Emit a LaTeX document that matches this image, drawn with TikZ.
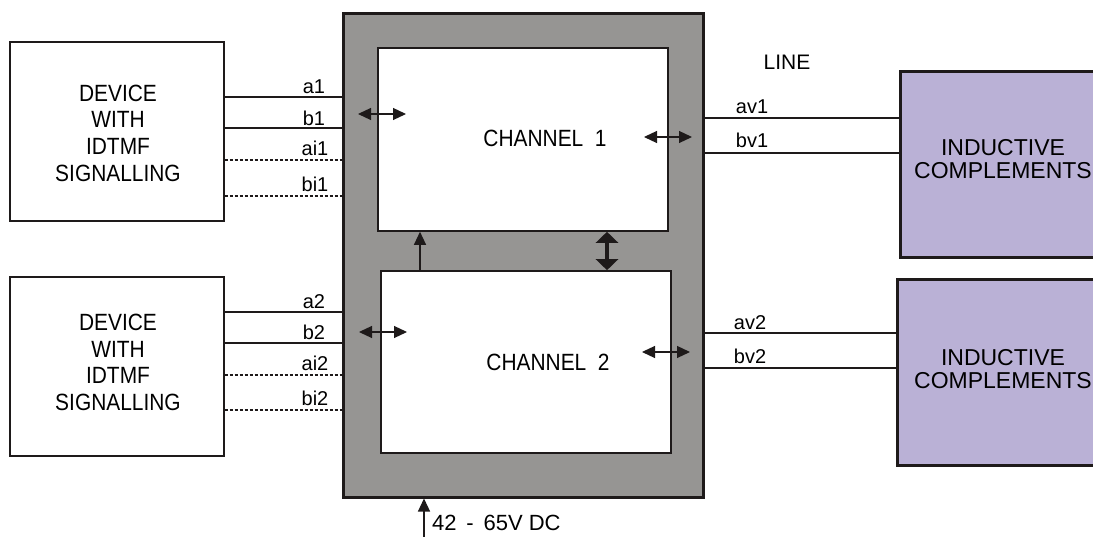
\documentclass[tikz,border=0pt]{standalone}
\usepackage{fontspec}
\setmainfont{Liberation Sans}
\newfontfamily\narrowfont[FakeStretch=0.89]{Liberation Sans}
\usetikzlibrary{arrows.meta}
\definecolor{shell}{HTML}{969593}
\definecolor{lav}{HTML}{BAB1D6}
\definecolor{ink}{HTML}{1E1A1A}
\tikzset{
  devbox/.style={draw=ink, line width=1.3pt, minimum width=214pt, minimum height=179pt, inner sep=0pt},
  chbox/.style={draw=ink, fill=white, line width=1.6pt, minimum width=290pt, inner sep=0pt},
  indbox/.style={draw=ink, fill=lav, line width=3pt, inner sep=0pt},
  bigtext/.style={align=center, font=\narrowfont\fontsize{23.5}{26.7}\selectfont, inner sep=0pt},
  indtext/.style={align=center, font=\fontsize{23}{22.5}\selectfont, inner sep=0pt},
  wlab/.style={font=\fontsize{20}{20}\selectfont, inner sep=0pt},
  wire/.style={draw=ink, line width=1.3pt},
  dwire/.style={draw=ink, line width=1.3pt, dash pattern=on 3pt off 2pt},
  dbl/.style={draw=ink, line width=1.2pt, {Triangle[length=13pt,width=12pt]}-{Triangle[length=13pt,width=12pt]}},
  thickdbl/.style={draw=ink, line width=4.5pt, {Triangle[length=11pt,width=22pt]}-{Triangle[length=11pt,width=22pt]}},
  single/.style={draw=ink, line width=1.2pt, -{Triangle[length=13pt,width=12pt]}},
}
\begin{document}
\begin{tikzpicture}[x=1pt,y=-1pt]
\useasboundingbox (0,0) rectangle (1093,537);
\clip (0,0) rectangle (1093,537);

% main shell
\node[draw=ink, fill=shell, line width=3pt, minimum width=360pt, minimum height=483pt, inner sep=0pt] (shell) at (523,255.5) {};
\node[chbox, minimum height=183pt] (ch1) at (523,139.5) {};
\node[chbox, minimum height=182pt] (ch2) at (526,362) {};
\node[bigtext] (ch1t) at (545,138) {CHANNEL\ \ 1};
\node[bigtext] (ch2t) at (548,362) {CHANNEL\ \ 2};

% devices
\node[devbox] (dev1) at (117,131.5) {};
\node[devbox] (dev2) at (117,366.5) {};
\node[bigtext] (dev1t) at (118,133) {DEVICE\\WITH\\IDTMF\\SIGNALLING};
\node[bigtext] (dev2t) at (118,362.5) {DEVICE\\WITH\\IDTMF\\SIGNALLING};

% inductive complements
\node[indbox, minimum width=200pt, minimum height=186pt] (ind1) at (1000,165) {};
\node[indbox, minimum width=203pt, minimum height=185pt] (ind2) at (998.5,372.5) {};
\node[indtext] (ind1t) at (1003,159) {INDUCTIVE\\COMPLEMENTS};
\node[indtext] (ind2t) at (1003,369) {INDUCTIVE\\COMPLEMENTS};

% left wires, device 1
\coordinate (a1s) at (dev1.east |- 0,97);
\coordinate (b1s) at (dev1.east |- 0,128);
\coordinate (ai1s) at (dev1.east |- 0,160);
\coordinate (bi1s) at (dev1.east |- 0,196);
\draw[wire] (a1s) -- (a1s -| shell.west);
\draw[wire] (b1s) -- (b1s -| shell.west);
\draw[dwire] (ai1s) -- (ai1s -| shell.west);
\draw[dwire] (bi1s) -- (bi1s -| shell.west);
\node[wlab] (la1) at (314,87) {a1};
\node[wlab] (lb1) at (314,118) {b1};
\node[wlab] (lai1) at (315,148) {ai1};
\node[wlab] (lbi1) at (315,184) {bi1};

% left wires, device 2
\coordinate (a2s) at (dev2.east |- 0,312);
\coordinate (b2s) at (dev2.east |- 0,343);
\coordinate (ai2s) at (dev2.east |- 0,375);
\coordinate (bi2s) at (dev2.east |- 0,410);
\draw[wire] (a2s) -- (a2s -| shell.west);
\draw[wire] (b2s) -- (b2s -| shell.west);
\draw[dwire] (ai2s) -- (ai2s -| shell.west);
\draw[dwire] (bi2s) -- (bi2s -| shell.west);
\node[wlab] (la2) at (314,302) {a2};
\node[wlab] (lb2) at (314,332) {b2};
\node[wlab] (lai2) at (315,363) {ai2};
\node[wlab] (lbi2) at (315,398) {bi2};

% right wires
\coordinate (av1s) at (shell.east |- 0,118);
\coordinate (bv1s) at (shell.east |- 0,153);
\coordinate (av2s) at (shell.east |- 0,333);
\coordinate (bv2s) at (shell.east |- 0,368);
\draw[wire] (av1s) -- (av1s -| ind1.west);
\draw[wire] (bv1s) -- (bv1s -| ind1.west);
\draw[wire] (av2s) -- (av2s -| ind2.west);
\draw[wire] (bv2s) -- (bv2s -| ind2.west);
\node[wlab] (lav1) at (752,107) {av1};
\node[wlab] (lbv1) at (752,140) {bv1};
\node[wlab] (lav2) at (750,323) {av2};
\node[wlab] (lbv2) at (750,356) {bv2};
\node[font=\fontsize{21}{21}\selectfont, inner sep=0pt] (line) at (787,62) {LINE};

% double arrows inside shell
\coordinate (l1a) at (358,114); \coordinate (l1b) at (406,114);
\coordinate (l2a) at (359,332); \coordinate (l2b) at (407,332);
\coordinate (r1a) at (644,137); \coordinate (r1b) at (692,137);
\coordinate (r2a) at (642,352); \coordinate (r2b) at (690,352);
\draw[dbl] (l1a) -- (l1b);
\draw[dbl] (l2a) -- (l2b);
\draw[dbl] (r1a) -- (r1b);
\draw[dbl] (r2a) -- (r2b);

% between channels
\draw[single] (ch2.north -| 420,0) -- (ch1.south -| 420,0);
\draw[thickdbl] (ch2.north -| 607,0) -- (ch1.south -| 607,0);

% power supply
\coordinate (pwr) at (424,537);
\draw[single] (pwr) -- (pwr |- shell.south);
\node[font=\fontsize{22}{22}\selectfont, anchor=west, inner sep=0pt] (pwrt) at (432,523) {42\,\ -\ \,65V DC};
\end{tikzpicture}
\end{document}
